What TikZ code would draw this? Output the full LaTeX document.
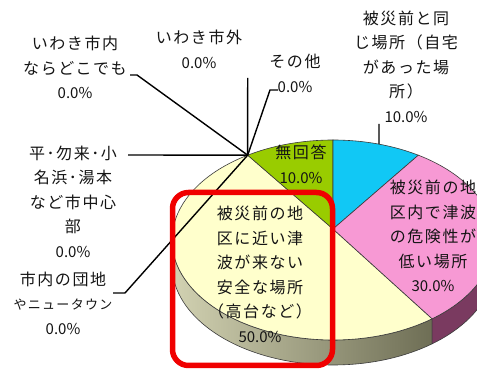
\documentclass[tikz,border=0pt]{standalone}
\usepackage{fontspec}
\newfontfamily\jp[LetterSpace=10]{Noto Sans CJK JP}
\newfontfamily\jpnum{Noto Sans CJK JP}
\newcommand\numlbl[1]{{\jpnum\fontsize{15}{24.5}\selectfont #1}}
\usetikzlibrary{calc}
\definecolor{txtc}{HTML}{141414}
\definecolor{edgec}{HTML}{3A3A3A}
\definecolor{slcream}{HTML}{FFFFCC}
\definecolor{slgreen}{HTML}{99CC00}
\definecolor{slcyan}{HTML}{11C8F5}
\definecolor{slpink}{HTML}{F799D4}
\definecolor{creamsideL}{HTML}{D2D2B2}
\definecolor{creamsideR}{HTML}{6E6E55}
\definecolor{pinkside}{HTML}{7A3A60}
\definecolor{frame}{HTML}{F00000}
\begin{document}
\begin{tikzpicture}[x=1pt,y=1pt,
  lbl/.style={font=\jp\fontsize{16}{24.5}\selectfont, align=center, inner sep=0pt, text=txtc},
  lead/.style={line width=1.4pt, black},
  slice/.style={draw=edgec, line width=0.6pt},
  er/.style={x radius=161pt, y radius=100pt}]
\useasboundingbox (0,0) rectangle (477,371);
\clip (0,0) rectangle (477,371);
\fill[white] (0,0) rectangle (477,371);
\coordinate (C) at (333,131);
\coordinate (A) at (333,142);
\coordinate (P) at ($(C)+(122:161 and 100)$);
% sides
\path[slice, left color=creamsideL, right color=creamsideR]
  ($(C)+(180:161 and 100)$) arc[start angle=180, end angle=308, er] -- ++(0,-25)
  arc[start angle=308, end angle=180, er] -- cycle;
\path[slice, fill=pinkside]
  ($(C)+(308:161 and 100)$) arc[start angle=308, end angle=370, er] -- ++(0,-25)
  arc[start angle=370, end angle=308, er] -- cycle;
% top faces
\path[slice, fill=slcream] (A) -- (P) arc[start angle=122, end angle=308, er] -- cycle;
\path[slice, fill=slgreen] (A) -- (P) arc[start angle=122, end angle=90, er] -- cycle;
\path[slice, fill=slcyan] (A) -- ($(C)+(90:161 and 100)$) arc[start angle=90, end angle=58, er] -- cycle;
\path[slice, fill=slpink] (A) -- ($(C)+(58:161 and 100)$) arc[start angle=58, end angle=-52, er] -- cycle;
% labels
\node[lbl] (l1) at (75,303.3) {いわき市内\\ならどこでも\\\numlbl{0.0\%}};
\node[lbl] (l2) at (199,321.5) {いわき市外\\\numlbl{0.0\%}};
\node[lbl] (l3) at (295,297.5) {その他\\\numlbl{0.0\%}};
\node[lbl] (l4) at (406,304.6) {被災前と同\\じ場所（自宅\\があった場\\所）\\\numlbl{10.0\%}};
\node[lbl] (l5) at (73,169.6) {平･勿来･小\\名浜･湯本\\など市中心\\部\\\numlbl{0.0\%}};
\node[lbl] (l6) at (63,67.7) {市内の団地\\{\fontsize{13}{24.5}\selectfont やニュータウン}\\\numlbl{0.0\%}};
\node[lbl] (l7) at (301,206.5) {無回答\\\numlbl{10.0\%}};
\node[lbl] (l9) at (433,134.8) {被災前の地\\区内で津波\\の危険性が\\低い場所\\\numlbl{30.0\%}};
% leader lines
\coordinate (k1) at (130,296); \coordinate (k1b) at (137,296);
\coordinate (k2) at (247.7,293);
\coordinate (k3) at (278,281); \coordinate (k3b) at (270,281);
\coordinate (k4) at (379,247); \coordinate (r4) at ($(C)+(73.4:161 and 100)$);
\coordinate (k5) at (128,216);
\coordinate (k6) at (113,78); \coordinate (k6b) at (125,78);
\draw[lead] (k1) -- (k1b) -- (P);
\draw[lead] (k2) -- (P);
\draw[lead] (k3) -- (k3b) -- (P);
\draw[lead] (k4) -- (r4);
\draw[lead] (k5) -- (P);
\draw[lead] (k6) -- (k6b) -- (P);
% highlight frame
\draw[frame, line width=5.5pt, rounded corners=16pt] (172.5,178.5) rectangle (332.5,5.5);
\node[lbl] (l8) at (260,96.7) {被災前の地\\区に近い津\\波が来ない\\安全な場所\\（高台など）\\\numlbl{50.0\%}};
\end{tikzpicture}
\end{document}
